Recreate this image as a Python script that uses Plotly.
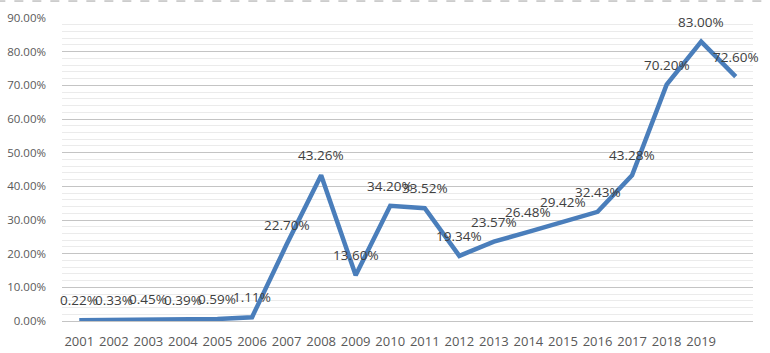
import plotly.graph_objects as go

years = [str(y) for y in range(2001, 2020)] + [""]
values = [0.22, 0.33, 0.45, 0.39, 0.59, 1.11, 22.70, 43.26, 13.60, 34.20,
          33.52, 19.34, 23.57, 26.48, 29.42, 32.43, 43.28, 70.20, 83.00, 72.60]
y_ticks = [0, 10, 20, 30, 40, 50, 60, 70, 80, 90]
y_ticktext = [f"{v:.2f}%" for v in y_ticks]

xs = list(range(len(values)))

fig = go.Figure()
fig.add_trace(go.Scatter(
    x=xs, y=values, mode="lines",
    line=dict(color="#4a7ebb", width=4.5),
    hoverinfo="skip", showlegend=False,
))

for x, v in zip(xs, values):
    fig.add_annotation(x=x, y=v, text=f"{v:.2f}%", showarrow=False, yshift=20,
                       font=dict(family="Open Sans", size=13.5, color="#404040"))

fig.add_shape(type="line", xref="paper", yref="paper",
              x0=-0.095, x1=1.03, y0=1.056, y1=1.056,
              line=dict(color="#a0a0a0", width=1, dash="dash"))

fig.update_layout(
    width=770, height=353,
    margin=dict(l=62, r=17, t=18, b=32),
    paper_bgcolor="white", plot_bgcolor="white",
    font=dict(family="Open Sans", size=12, color="#595959"),
    xaxis=dict(
        range=[-0.5, len(values) - 0.5],
        tickmode="array", tickvals=xs, ticktext=years,
        showgrid=False, zeroline=False, showline=False,
        ticks="", ticklabelstandoff=11, automargin=False,
        tickfont=dict(size=13, color="#595959"),
    ),
    yaxis=dict(
        range=[0, 90],
        tickmode="array", tickvals=y_ticks, ticktext=y_ticktext,
        showgrid=True, gridcolor="#c4c4c4", gridwidth=1,
        minor=dict(dtick=2, showgrid=True, gridcolor="#ebebeb", gridwidth=1),
        zeroline=True, zerolinecolor="#c4c4c4", zerolinewidth=1,
        showline=False, ticks="", ticklabelstandoff=15, automargin=False,
        tickfont=dict(size=11.5, color="#595959"),
    ),
)

fig.write_html("out.html")
